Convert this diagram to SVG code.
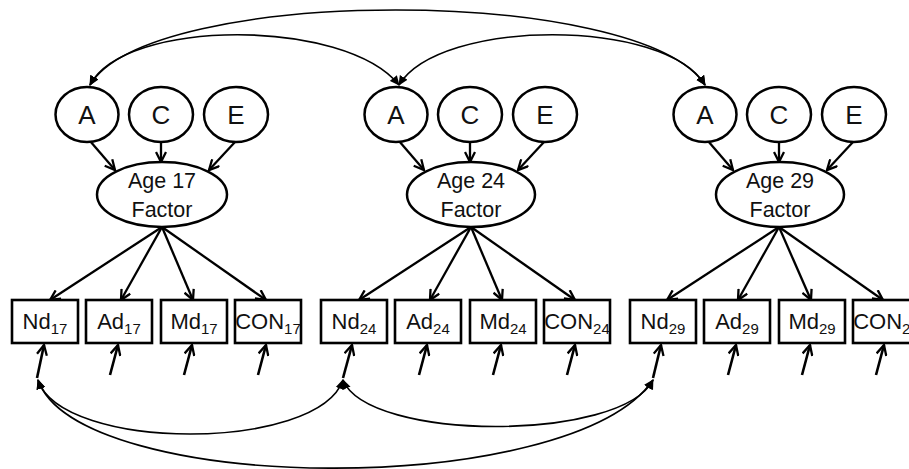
<svg xmlns="http://www.w3.org/2000/svg" width="909" height="469" viewBox="0 0 909 469">
<style>
.el{fill:#fff;stroke:#000;stroke-width:2.5}
.bx{fill:#fff;stroke:#000;stroke-width:2.6}
.t{font-family:"Liberation Sans",Arial,sans-serif;fill:#111;text-anchor:middle}
.ace{font-size:26px}
.fac{font-size:21.5px}
.obs{font-size:22px}
.sub{font-size:15px}
.ar{fill:none;stroke:#000;stroke-width:2.3;marker-end:url(#open)}
.er{fill:none;stroke:#000;stroke-width:2.6;marker-end:url(#open)}
.cv{fill:none;stroke:#000;stroke-width:1.6;marker-start:url(#fill);marker-end:url(#fill)}
</style>
<defs>
<marker id="open" viewBox="0 0 12 12" refX="11" refY="6" markerWidth="12" markerHeight="12" markerUnits="userSpaceOnUse" orient="auto">
<path d="M1,1 L11,6 L1,11" fill="none" stroke="#000" stroke-width="2.3"/>
</marker>
<marker id="fill" viewBox="0 0 10 10" refX="9" refY="5" markerWidth="10" markerHeight="10" markerUnits="userSpaceOnUse" orient="auto-start-reverse">
<path d="M0,0.5 L10,5 L0,9.5 z" fill="#000"/>
</marker>
</defs>

<g id="connectors">
<line class="ar" x1="90" y1="141" x2="115" y2="170"/>
<line class="ar" x1="161" y1="142" x2="161" y2="162"/>
<line class="ar" x1="235" y1="142" x2="209" y2="170"/>
<line class="ar" x1="399" y1="141" x2="424" y2="170"/>
<line class="ar" x1="470" y1="142" x2="470" y2="162"/>
<line class="ar" x1="544" y1="142" x2="518" y2="170"/>
<line class="ar" x1="708" y1="141" x2="733" y2="170"/>
<line class="ar" x1="779" y1="142" x2="779" y2="162"/>
<line class="ar" x1="853" y1="142" x2="827" y2="170"/>
<line class="ar" x1="162" y1="227" x2="50" y2="300"/>
<line class="ar" x1="162" y1="227" x2="121" y2="300"/>
<line class="ar" x1="162" y1="227" x2="193" y2="300"/>
<line class="ar" x1="162" y1="227" x2="266" y2="300"/>
<line class="ar" x1="471" y1="227" x2="359" y2="300"/>
<line class="ar" x1="471" y1="227" x2="430" y2="300"/>
<line class="ar" x1="471" y1="227" x2="502" y2="300"/>
<line class="ar" x1="471" y1="227" x2="575" y2="300"/>
<line class="ar" x1="779" y1="227" x2="667" y2="300"/>
<line class="ar" x1="779" y1="227" x2="738" y2="300"/>
<line class="ar" x1="779" y1="227" x2="811" y2="300"/>
<line class="ar" x1="779" y1="227" x2="883" y2="300"/>
<line class="er" x1="37" y1="378" x2="44" y2="345"/>
<line class="er" x1="110" y1="375" x2="118" y2="345"/>
<line class="er" x1="184" y1="375" x2="192" y2="345"/>
<line class="er" x1="258" y1="375" x2="266" y2="345"/>
<line class="er" x1="343" y1="378" x2="352" y2="345"/>
<line class="er" x1="419" y1="375" x2="427" y2="345"/>
<line class="er" x1="493" y1="375" x2="501" y2="345"/>
<line class="er" x1="567" y1="375" x2="575" y2="345"/>
<line class="er" x1="653" y1="378" x2="661" y2="345"/>
<line class="er" x1="728" y1="375" x2="736" y2="345"/>
<line class="er" x1="802" y1="375" x2="810" y2="345"/>
<line class="er" x1="876" y1="375" x2="884" y2="345"/>
<path class="cv" d="M90,85 C150,-15 640,-15 705,85"/>
<path class="cv" d="M90,85 C125,18 345,18 399,85"/>
<path class="cv" d="M399,85 C440,18 665,18 705,85"/>
<path class="cv" d="M38,380 C62,452 318,452 343,380"/>
<path class="cv" d="M38,380 C78,495 570,500 653,380"/>
<path class="cv" d="M343,380 C368,442 622,442 653,380"/>
</g>

<g id="A17"><ellipse class="el" cx="87" cy="114.5" rx="31.5" ry="27.5"/><text class="t ace" x="87" y="124">A</text></g>
<g id="C17"><ellipse class="el" cx="161" cy="114.5" rx="32" ry="27.5"/><text class="t ace" x="161" y="124">C</text></g>
<g id="E17"><ellipse class="el" cx="236" cy="114.5" rx="32" ry="27.5"/><text class="t ace" x="236" y="124">E</text></g>
<g id="F17"><ellipse class="el" cx="162" cy="194.5" rx="65" ry="32.5"/><text class="t fac" x="162" y="188">Age 17</text><text class="t fac" x="162" y="217">Factor</text></g>

<g id="A24"><ellipse class="el" cx="396" cy="114.5" rx="31.5" ry="27.5"/><text class="t ace" x="396" y="124">A</text></g>
<g id="C24"><ellipse class="el" cx="470" cy="114.5" rx="32" ry="27.5"/><text class="t ace" x="470" y="124">C</text></g>
<g id="E24"><ellipse class="el" cx="545" cy="114.5" rx="32" ry="27.5"/><text class="t ace" x="545" y="124">E</text></g>
<g id="F24"><ellipse class="el" cx="471" cy="194.5" rx="64" ry="32.5"/><text class="t fac" x="471" y="188">Age 24</text><text class="t fac" x="471" y="217">Factor</text></g>

<g id="A29"><ellipse class="el" cx="705" cy="114.5" rx="31.5" ry="27.5"/><text class="t ace" x="705" y="124">A</text></g>
<g id="C29"><ellipse class="el" cx="779" cy="114.5" rx="32" ry="27.5"/><text class="t ace" x="779" y="124">C</text></g>
<g id="E29"><ellipse class="el" cx="854" cy="114.5" rx="32" ry="27.5"/><text class="t ace" x="854" y="124">E</text></g>
<g id="F29"><ellipse class="el" cx="780" cy="194.5" rx="64" ry="32.5"/><text class="t fac" x="780" y="188">Age 29</text><text class="t fac" x="780" y="217">Factor</text></g>

<g id="Nd17"><rect class="bx" x="12" y="300" width="66" height="43"/><text class="t obs" x="45" y="329">Nd<tspan class="sub" dy="5">17</tspan></text></g>
<g id="Ad17"><rect class="bx" x="86" y="300" width="66" height="43"/><text class="t obs" x="119" y="329">Ad<tspan class="sub" dy="5">17</tspan></text></g>
<g id="Md17"><rect class="bx" x="161" y="300" width="66" height="43"/><text class="t obs" x="194" y="329">Md<tspan class="sub" dy="5">17</tspan></text></g>
<g id="CON17"><rect class="bx" x="235" y="300" width="66" height="43"/><text class="t obs" x="268" y="329">CON<tspan class="sub" dy="5">17</tspan></text></g>

<g id="Nd24"><rect class="bx" x="321" y="300" width="66" height="43"/><text class="t obs" x="354" y="329">Nd<tspan class="sub" dy="5">24</tspan></text></g>
<g id="Ad24"><rect class="bx" x="395" y="300" width="66" height="43"/><text class="t obs" x="428" y="329">Ad<tspan class="sub" dy="5">24</tspan></text></g>
<g id="Md24"><rect class="bx" x="470" y="300" width="66" height="43"/><text class="t obs" x="503" y="329">Md<tspan class="sub" dy="5">24</tspan></text></g>
<g id="CON24"><rect class="bx" x="544" y="300" width="66" height="43"/><text class="t obs" x="577" y="329">CON<tspan class="sub" dy="5">24</tspan></text></g>

<g id="Nd29"><rect class="bx" x="630" y="300" width="66" height="43"/><text class="t obs" x="663" y="329">Nd<tspan class="sub" dy="5">29</tspan></text></g>
<g id="Ad29"><rect class="bx" x="704" y="300" width="66" height="43"/><text class="t obs" x="737" y="329">Ad<tspan class="sub" dy="5">29</tspan></text></g>
<g id="Md29"><rect class="bx" x="779" y="300" width="66" height="43"/><text class="t obs" x="812" y="329">Md<tspan class="sub" dy="5">29</tspan></text></g>
<g id="CON29"><rect class="bx" x="853" y="300" width="66" height="43"/><text class="t obs" x="886" y="329">CON<tspan class="sub" dy="5">29</tspan></text></g>
</svg>
